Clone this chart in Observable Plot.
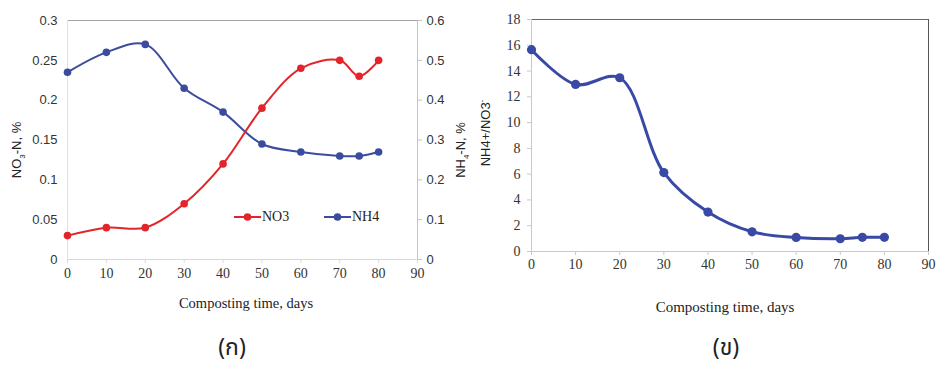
<!DOCTYPE html>
<html>
<head>
<meta charset="utf-8">
<script src="https://cdn.jsdelivr.net/npm/d3@7"></script>
<script src="https://cdn.jsdelivr.net/npm/@observablehq/plot@0.6"></script>
<style>
  html, body { margin: 0; padding: 0; background: #fff; }
  #wrap { position: relative; width: 936px; height: 365px; overflow: hidden; background: #fff; }
  .panel { position: absolute; top: 0; }
  .lbl { position: absolute; white-space: nowrap; color: #222; }
  .rot { transform: translate(-50%, -50%) rotate(-90deg); transform-origin: center; }
  .sans { font-family: "Liberation Sans", "DejaVu Sans", sans-serif; }
  .serif { font-family: "Liberation Serif", "DejaVu Serif", serif; }
  .cap { font-family: "Noto Sans Thai", "Tlwg Typo", "Loma", "Garuda", "Noto Sans", sans-serif; font-size: 23px; line-height: 26px; transform: translate(-50%, -50%); }
  sub, sup { font-size: 8px; }
  .leg { position: absolute; display: flex; align-items: center; font-family: "Liberation Serif", serif; font-size: 14px; color: #222; }
</style>
</head>
<body>
<div id="wrap"></div>
<script>
// ---- data ----
const days = [0, 10, 20, 30, 40, 50, 60, 70, 75, 80];
const no3 = [0.03, 0.04, 0.04, 0.07, 0.12, 0.19, 0.24, 0.25, 0.23, 0.25];
const nh4 = [0.47, 0.52, 0.54, 0.43, 0.37, 0.29, 0.27, 0.26, 0.26, 0.27];
const ratio = [15.66, 12.96, 13.48, 6.12, 3.06, 1.53, 1.09, 0.99, 1.1, 1.1];
const xTicks = [0, 10, 20, 30, 40, 50, 60, 70, 80, 90];
const leftTicks = [0, 0.05, 0.1, 0.15, 0.2, 0.25, 0.3];
const rightTicks = [0, 0.1, 0.2, 0.3, 0.4, 0.5, 0.6];
const ratioTicks = [0, 2, 4, 6, 8, 10, 12, 14, 16, 18];

const RED = "#e3252b";
const BLUE = "#3b4c9f";
const BLUE2 = "#3949a6";
const SERIF = "Liberation Serif, DejaVu Serif, serif";
const SANS = "Liberation Sans, DejaVu Sans, sans-serif";

const rows = days.map((d, i) => ({day: d, no3: no3[i], nh4: nh4[i], ratio: ratio[i]}));
const xMin = xTicks[0], xMax = xTicks[xTicks.length - 1];
const yMaxL = leftTicks[leftTicks.length - 1];
const rMax = rightTicks[rightTicks.length - 1];
const k = yMaxL / rMax; // NH4 -> left scale factor
const qMax = ratioTicks[ratioTicks.length - 1];

const wrap = document.getElementById("wrap");

// ---- left chart ----
const left = Plot.plot({
  width: 470, height: 320,
  marginLeft: 67, marginRight: 53, marginTop: 20, marginBottom: 61,
  x: {domain: [xMin, xMax]},
  y: {domain: [0, yMaxL]},
  style: {background: "transparent", overflow: "visible", fontFamily: SERIF, fontSize: "14px"},
  marks: [
    Plot.ruleY([yMaxL], {stroke: "#a6a6a6", strokeWidth: 1}),
    Plot.ruleX([xMin], {stroke: "#e0e0e0"}),
    Plot.ruleY([0], {stroke: "#d9d9d9"}),
    Plot.ruleX([xMax], {stroke: "#c4c4c4"}),
    Plot.axisY(leftTicks, {anchor: "left", tickSize: 0, tickPadding: 10, color: "#333", tickFormat: d => String(d), label: null}),
    Plot.axisY(rightTicks.map(v => v * k), {anchor: "right", tickSize: 4, tickPadding: 5, stroke: "#c4c4c4", color: "#333", tickFormat: d => String(+(d / k).toFixed(2)), label: null}),
    Plot.axisX(xTicks, {anchor: "bottom", tickSize: 4, tickPadding: 5, stroke: "#d9d9d9", color: "#333", label: null}),
    Plot.line(rows, {x: "day", y: d => d.nh4 * k, stroke: BLUE, strokeWidth: 2, curve: "catmull-rom"}),
    Plot.dot(rows, {x: "day", y: d => d.nh4 * k, fill: BLUE, r: 3.8}),
    Plot.line(rows, {x: "day", y: "no3", stroke: RED, strokeWidth: 2, curve: "catmull-rom"}),
    Plot.dot(rows, {x: "day", y: "no3", fill: RED, r: 3.8})
  ]
});
left.classList.add("panel");
left.style.left = "0px";
d3.select(left).selectAll('g[aria-label="y-axis tick label"]').attr("font-family", SANS).style("font-family", SANS).style("font-size", "13px");
wrap.appendChild(left);

// ---- right chart ----
const right = Plot.plot({
  width: 466, height: 320,
  marginLeft: 61, marginRight: 8, marginTop: 19, marginBottom: 69,
  x: {domain: [xMin, xMax]},
  y: {domain: [0, qMax]},
  style: {background: "transparent", overflow: "visible", fontFamily: SERIF, fontSize: "14px"},
  marks: [
    Plot.ruleY([qMax], {stroke: "#666", strokeWidth: 1}),
    Plot.ruleX([xMax], {stroke: "#555", strokeWidth: 1}),
    Plot.ruleX([xMin], {stroke: "#c8c8c8"}),
    Plot.ruleY([0], {stroke: "#c8c8c8"}),
    Plot.axisY(ratioTicks, {anchor: "left", tickSize: 4, tickPadding: 7, stroke: "#c8c8c8", color: "#333", label: null}),
    Plot.axisX(xTicks, {anchor: "bottom", tickSize: 4, tickPadding: 4, stroke: "#c8c8c8", color: "#333", label: null}),
    Plot.line(rows, {x: "day", y: "ratio", stroke: BLUE2, strokeWidth: 3, curve: "catmull-rom"}),
    Plot.dot(rows, {x: "day", y: "ratio", fill: BLUE2, r: 4.6})
  ]
});
right.classList.add("panel");
right.style.left = "470px";
wrap.appendChild(right);

// ---- text overlays ----
function addLabel(html, cls, x, y, extra) {
  const el = document.createElement("div");
  el.className = "lbl " + cls;
  el.innerHTML = html;
  el.style.left = x + "px";
  el.style.top = y + "px";
  if (extra) Object.assign(el.style, extra);
  wrap.appendChild(el);
  return el;
}
addLabel("NO<sub>3</sub>-N, %", "rot sans", 18, 150, {fontSize: "13px"});
addLabel("NH<sub>4</sub>-N, %", "rot sans", 462, 150, {fontSize: "13px"});
addLabel("NH4+/NO3<sup>-</sup>", "rot sans", 485, 133, {fontSize: "13px"});
addLabel("Composting time, days", "serif", 246, 303, {fontSize: "14.5px", transform: "translate(-50%,-50%)"});
addLabel("Composting time, days", "serif", 725, 307, {fontSize: "15px", transform: "translate(-50%,-50%)"});
addLabel("(ก)", "cap", 232, 348);
addLabel("(ข)", "cap", 726, 348);

// legend
function legItem(color, text, x, y) {
  const el = document.createElement("div");
  el.className = "leg";
  el.style.left = x + "px";
  el.style.top = (y - 9) + "px";
  el.innerHTML = `<svg width="28" height="18"><line x1="0" y1="9" x2="27" y2="9" stroke="${color}" stroke-width="2"/><circle cx="13.5" cy="9" r="3.8" fill="${color}"/></svg><span>${text}</span>`;
  wrap.appendChild(el);
}
legItem(RED, "NO3", 234, 217);
legItem(BLUE, "NH4", 324, 217);
</script>
</body>
</html>
